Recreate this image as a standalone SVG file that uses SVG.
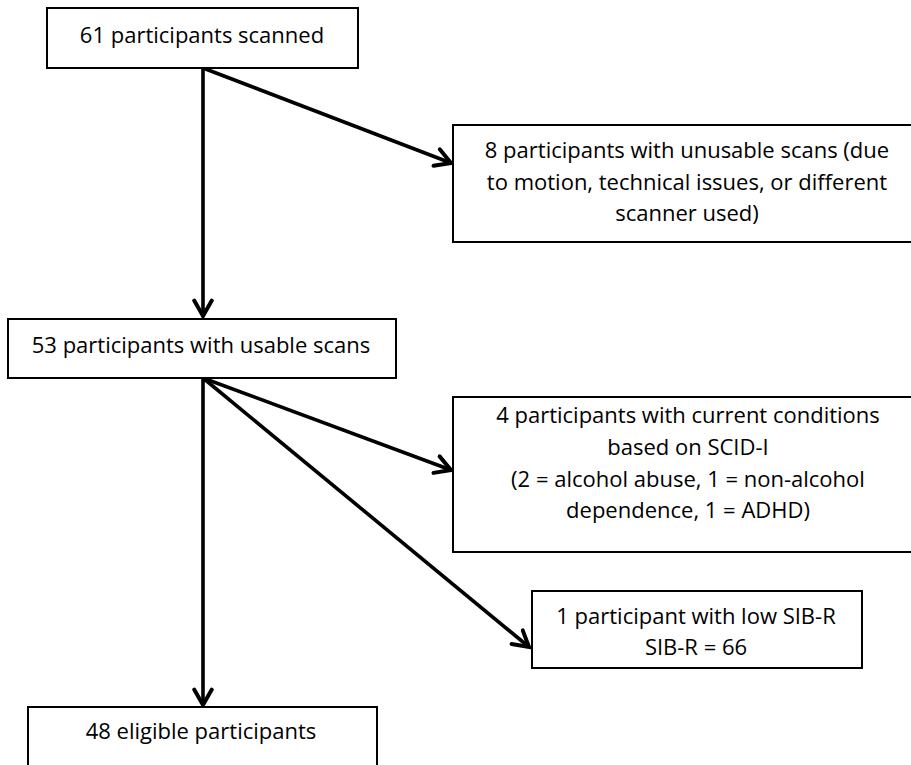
<svg xmlns="http://www.w3.org/2000/svg" width="911" height="765" viewBox="0 0 911 765">
<style>
.box{fill:#fff;stroke:#000;stroke-width:2}
.t{font-family:"Open Sans","Liberation Sans",sans-serif;font-size:22px;fill:#000;text-anchor:middle}
.c{fill:none;stroke:#000;stroke-width:3.6}
</style>
<defs>
<marker id="arr" markerUnits="userSpaceOnUse" markerWidth="22" markerHeight="22" viewBox="-16 -10 20 20" refX="0" refY="0" orient="auto">
<path d="M-14,-8 L0,0 L-14,8" fill="none" stroke="#000" stroke-width="3.6" stroke-linecap="round" stroke-linejoin="miter"/>
</marker>
</defs>
<rect width="911" height="765" fill="#fff"/>
<g id="connectors">
<line class="c" x1="203" y1="68" x2="203" y2="316" marker-end="url(#arr)"/>
<line class="c" x1="203" y1="68" x2="451" y2="163" marker-end="url(#arr)"/>
<line class="c" x1="203" y1="378" x2="451" y2="470" marker-end="url(#arr)"/>
<line class="c" x1="203" y1="378" x2="529" y2="647" marker-end="url(#arr)"/>
<line class="c" x1="203" y1="378" x2="203" y2="705" marker-end="url(#arr)"/>
</g>
<g id="n1">
<rect class="box" x="47" y="8" width="311" height="60"/>
<text class="t" x="202" y="43">61 participants scanned</text>
</g>
<g id="n2">
<rect class="box" x="453" y="125" width="470" height="117"/>
<text class="t" x="687" y="158">8 participants with unusable scans (due</text>
<text class="t" x="687" y="190">to motion, technical issues, or different</text>
<text class="t" x="687" y="221">scanner used)</text>
</g>
<g id="n3">
<rect class="box" x="8" y="319" width="388" height="59"/>
<text class="t" x="201" y="353">53 participants with usable scans</text>
</g>
<g id="n4">
<rect class="box" x="453" y="397" width="470" height="155"/>
<text class="t" x="688" y="423">4 participants with current conditions</text>
<text class="t" x="688" y="455">based on SCID-I</text>
<text class="t" x="688" y="487">(2 = alcohol abuse, 1 = non-alcohol</text>
<text class="t" x="688" y="518">dependence, 1 = ADHD)</text>
</g>
<g id="n5">
<rect class="box" x="532" y="591" width="330" height="77"/>
<text class="t" x="696" y="624">1 participant with low SIB-R</text>
<text class="t" x="696" y="655">SIB-R = 66</text>
</g>
<g id="n6">
<rect class="box" x="28" y="707" width="349" height="70"/>
<text class="t" x="201" y="739">48 eligible participants</text>
</g>
</svg>
